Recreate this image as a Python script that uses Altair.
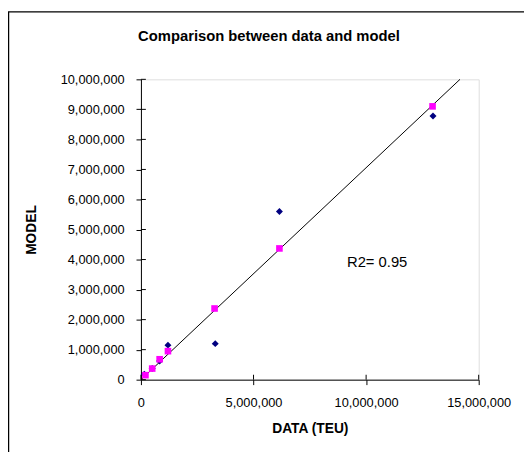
import altair as alt
import pandas as pd

# Observed data (TEU) and model values
data_teu = [150000, 500000, 830000, 1200000, 3300000, 6150000, 12970000]
model_obs = [180000, 370000, 620000, 1150000, 1200000, 5600000, 8780000]
# Fitted (on-line) values
fit_x = [200000, 500000, 830000, 1200000, 3270000, 6150000, 12950000]
fit_y = [150000, 370000, 680000, 950000, 2370000, 4370000, 9100000]
# Regression line end points
line_x = [0, 14170000]
line_y = [0, 10000000]
y_ticks = [i * 1000000 for i in range(11)]
x_ticks = [0, 5000000, 10000000, 15000000]
title_text = ["Comparison between data and model"]

FONT = "Liberation Sans"

df_obs = pd.DataFrame({"x": data_teu, "y": model_obs})
df_fit = pd.DataFrame({"x": fit_x, "y": fit_y})
df_line = pd.DataFrame({"x": line_x, "y": line_y})
df_yt = pd.DataFrame({"x": [0] * len(y_ticks), "y": y_ticks})
df_xt = pd.DataFrame({"x": x_ticks, "y": [0] * len(x_ticks)})
df_r2 = pd.DataFrame({"x": [9150000], "y": [3930000], "t": ["R2= 0.95"]})
df_title = pd.DataFrame({"t": title_text})

xs = alt.Scale(domain=[0, 15000000], nice=False, zero=True)
ys = alt.Scale(domain=[0, 10000000], nice=False, zero=True)

xaxis = alt.Axis(values=x_ticks, format=",d", title="DATA (TEU)", grid=False,
                 tickSize=5, labelPadding=12, tickColor="black", domainColor="black",
                 labelFont=FONT, labelFontSize=13, labelColor="black", labelOverlap=False,
                 labelFlush=False,
                 titleFont=FONT, titleFontSize=14, titleFontWeight="bold", titleColor="black",
                 titleX=171.5, titleY=50, titleBaseline="middle", titleAlign="center")
yaxis = alt.Axis(values=y_ticks, format=",d", title="MODEL", grid=False,
                 tickSize=5, labelPadding=12, tickColor="black", domainColor="black",
                 labelFont=FONT, labelFontSize=13, labelColor="black", labelOverlap=False,
                 labelFlush=False,
                 titleFont=FONT, titleFontSize=14, titleFontWeight="bold", titleColor="black",
                 titleX=-111, titleY=152.5, titleAngle=-90, titleBaseline="middle",
                 titleAlign="center")

X = alt.X("x:Q", scale=xs, axis=xaxis)
Y = alt.Y("y:Q", scale=ys, axis=yaxis)

line = alt.Chart(df_line).mark_line(color="black", strokeWidth=1).encode(x=X, y=Y)

obs = alt.Chart(df_obs).mark_point(shape="diamond", filled=True, color="#000080",
                                   size=50, opacity=1).encode(x=X, y=Y)

fit = alt.Chart(df_fit).mark_square(color="#FF00FF", size=45, opacity=1).encode(x=X, y=Y)

ytick_in = alt.Chart(df_yt).mark_rule(color="black", strokeWidth=1).encode(
    y=Y, x=alt.value(0), x2=alt.value(5))
xtick_in = alt.Chart(df_xt).mark_rule(color="black", strokeWidth=1).encode(
    x=X, y=alt.value(305), y2=alt.value(300))

r2 = alt.Chart(df_r2).mark_text(align="left", baseline="middle", font=FONT,
                                fontSize=15, color="black").encode(x=X, y=Y, text="t:N")

title = alt.Chart(df_title).mark_text(align="center", baseline="middle", font=FONT,
                                      fontSize=15, fontWeight="bold", color="black").encode(
    x=alt.value(130), y=alt.value(-44), text="t:N")

border = alt.Chart(df_r2).mark_rect(fill=None, stroke="black", strokeWidth=1.5).encode(
    x=alt.value(-134.5), x2=alt.value(700), y=alt.value(-68.5), y2=alt.value(700))

chart = alt.layer(border, line, ytick_in, xtick_in, obs, fit, r2, title).properties(
    width=343, height=305,
    autosize=alt.AutoSizeParams(type="none"),
    padding={"left": 135, "top": 69, "right": 46, "bottom": 70},
).configure_view(stroke="#a6a6a6", strokeWidth=1.5).configure(background="white")

chart.save("out.html", embed_options={"renderer": "svg", "actions": False})
